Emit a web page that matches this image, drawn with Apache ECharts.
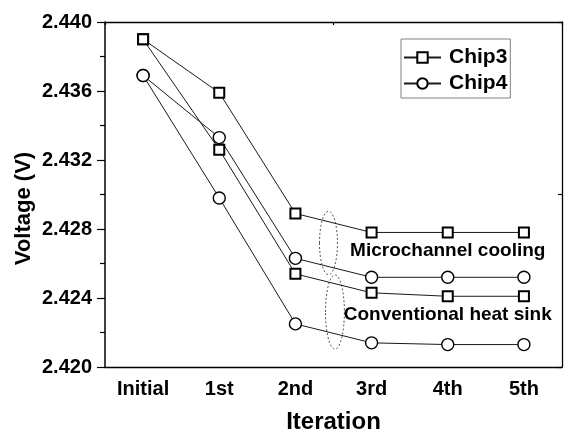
<!DOCTYPE html>
<html>
<head>
<meta charset="utf-8">
<script src="https://cdn.jsdelivr.net/npm/echarts@6/dist/echarts.min.js"></script>
<style>
  html, body { margin: 0; padding: 0; background: #fff; }
  #chart { width: 565px; height: 436px; }
</style>
</head>
<body>
<div id="chart"></div>
<script>
// Iteration steps on the x axis
const iterations = ['Initial', '1st', '2nd', '3rd', '4th', '5th'];

// Measured voltages (V)
const chip3Microchannel = [2.4390, 2.4359, 2.4289, 2.4278, 2.4278, 2.4278];
const chip3Conventional = [2.4390, 2.4326, 2.4254, 2.4243, 2.4241, 2.4241];
const chip4Microchannel = [2.4369, 2.4333, 2.4263, 2.4252, 2.4252, 2.4252];
const chip4Conventional = [2.4369, 2.4298, 2.4225, 2.4214, 2.4213, 2.4213];

// Voltage axis range and tick step
const voltageMin = 2.420;
const voltageMax = 2.440;
const voltageStep = 0.004;

// Group annotations, anchored in data units (x = iteration index, y = volts)
const groupLabels = [
  { text: 'Microchannel cooling', x: 4, y: 2.42674 },
  { text: 'Conventional heat sink', x: 4, y: 2.42301 }
];
const groupOutlines = [
  { x: 2.434, y: 2.42719, rx: 0.118, ry: 0.00184 },
  { x: 2.519, y: 2.42319, rx: 0.124, ry: 0.00215 }
];

const FONT = '"Liberation Sans", Arial, sans-serif';
const INK = '#000';

const chart = echarts.init(document.getElementById('chart'), null, { renderer: 'canvas' });

function lineSeries(name, data, symbol) {
  const isSquare = symbol === 'rect';
  return {
    name: name,
    type: 'line',
    data: data,
    xAxisIndex: 0,
    yAxisIndex: 0,
    symbol: symbol,
    symbolSize: isSquare ? 10 : 12,
    showAllSymbol: true,
    lineStyle: { color: '#1a1a1a', width: 1 },
    itemStyle: { color: '#fff', borderColor: INK, borderWidth: isSquare ? 2 : 1.4 },
    emphasis: { disabled: true },
    animation: false,
    z: 3
  };
}

chart.setOption({
  animation: false,
  backgroundColor: '#fff',
  textStyle: { fontFamily: FONT },
  grid: { left: 105, right: 3, top: 22, bottom: 69, containLabel: false, outerBoundsMode: 'none' },
  legend: {
    data: ['Chip3', 'Chip4'],
    orient: 'vertical',
    left: 401,
    top: 39,
    padding: [8, 3, 4, 2],
    itemGap: 5,
    itemWidth: 37,
    itemHeight: 13,
    borderColor: '#808080',
    borderWidth: 1,
    selectedMode: false,
    textStyle: { fontFamily: FONT, fontSize: 21, fontWeight: 'bold', color: INK, padding: [0, 0, 0, 3] }
  },
  xAxis: [
    {
      // Main category axis: labels and centre ticks
      type: 'category',
      data: iterations,
      boundaryGap: true,
      position: 'bottom',
      name: 'Iteration',
      nameLocation: 'middle',
      nameGap: 43,
      nameTextStyle: { fontFamily: FONT, fontSize: 24, fontWeight: 'bold', color: INK },
      axisLine: { lineStyle: { color: INK, width: 1.3 } },
      axisTick: { alignWithLabel: true, inside: false, length: 6, lineStyle: { color: INK, width: 1.2 } },
      axisLabel: { margin: 12, fontFamily: FONT, fontSize: 20, fontWeight: 'bold', color: INK },
      splitLine: { show: false }
    },
    {
      // Boundary ticks between categories
      type: 'category',
      data: iterations,
      boundaryGap: true,
      position: 'bottom',
      axisLine: { show: false },
      axisTick: { alignWithLabel: false, inside: false, length: 4, lineStyle: { color: INK, width: 1.2 } },
      axisLabel: { show: false },
      splitLine: { show: false }
    },
    {
      // Top frame with a single middle tick
      type: 'value',
      position: 'top',
      min: 0,
      max: 2,
      interval: 1,
      axisLine: { lineStyle: { color: INK, width: 1.3 } },
      axisTick: { inside: true, length: 3, lineStyle: { color: INK, width: 1.2 } },
      axisLabel: { show: false },
      splitLine: { show: false }
    }
  ],
  yAxis: [
    {
      type: 'value',
      position: 'left',
      min: voltageMin,
      max: voltageMax,
      interval: voltageStep,
      axisLine: { show: true, lineStyle: { color: INK, width: 1.5 } },
      axisTick: { show: true, inside: false, length: 8, lineStyle: { color: INK, width: 1.2 } },
      minorTick: { show: true, splitNumber: 2, length: 5, lineStyle: { color: INK, width: 1.2 } },
      axisLabel: {
        margin: 13,
        fontFamily: FONT,
        fontSize: 20,
        fontWeight: 'bold',
        color: INK,
        formatter: v => v.toFixed(3)
      },
      splitLine: { show: false },
      minorSplitLine: { show: false }
    },
    {
      // Right frame with a single middle tick
      type: 'value',
      position: 'right',
      min: 0,
      max: 2,
      interval: 1,
      axisLine: { show: true, lineStyle: { color: INK, width: 1.3 } },
      axisTick: { show: true, inside: true, length: 4, lineStyle: { color: INK, width: 1.2 } },
      axisLabel: { show: false },
      splitLine: { show: false }
    }
  ],
  series: [
    lineSeries('Chip3', chip3Microchannel, 'rect'),
    lineSeries('Chip3', chip3Conventional, 'rect'),
    lineSeries('Chip4', chip4Microchannel, 'circle'),
    lineSeries('Chip4', chip4Conventional, 'circle')
  ]
});

// Pixel position for a fractional iteration index and a voltage
function toPixel(xIndex, volts) {
  const lo = Math.max(0, Math.min(iterations.length - 2, Math.floor(xIndex)));
  const pLo = chart.convertToPixel({ xAxisIndex: 0 }, lo);
  const pHi = chart.convertToPixel({ xAxisIndex: 0 }, lo + 1);
  const px = pLo + (pHi - pLo) * (xIndex - lo);
  const py = chart.convertToPixel({ yAxisIndex: 0 }, volts);
  return [px, py];
}

function drawAnnotations() {
  const graphics = [];
  const yTop = chart.convertToPixel({ yAxisIndex: 0 }, voltageMax);
  const yBottom = chart.convertToPixel({ yAxisIndex: 0 }, voltageMin);

  // Y axis title, rotated
  graphics.push({
    type: 'text',
    x: 24,
    y: (yTop + yBottom) / 2 + 14,
    rotation: Math.PI / 2,
    style: {
      text: 'Voltage (V)',
      font: 'bold 22px ' + FONT,
      fill: INK,
      align: 'center',
      verticalAlign: 'middle'
    },
    z: 10
  });

  groupOutlines.forEach(o => {
    const c = toPixel(o.x, o.y);
    const e = toPixel(o.x + o.rx, o.y + o.ry);
    graphics.push({
      type: 'ellipse',
      shape: { cx: c[0], cy: c[1], rx: Math.abs(e[0] - c[0]), ry: Math.abs(c[1] - e[1]) },
      style: { fill: 'none', stroke: '#555', lineWidth: 1, lineDash: [2, 2] },
      z: 2
    });
  });

  groupLabels.forEach(l => {
    const p = toPixel(l.x, l.y);
    graphics.push({
      type: 'text',
      x: p[0],
      y: p[1],
      style: {
        text: l.text,
        font: 'bold 19px ' + FONT,
        fill: INK,
        align: 'center',
        verticalAlign: 'middle'
      },
      z: 10
    });
  });

  chart.setOption({ graphic: graphics });
}

drawAnnotations();
</script>
</body>
</html>
